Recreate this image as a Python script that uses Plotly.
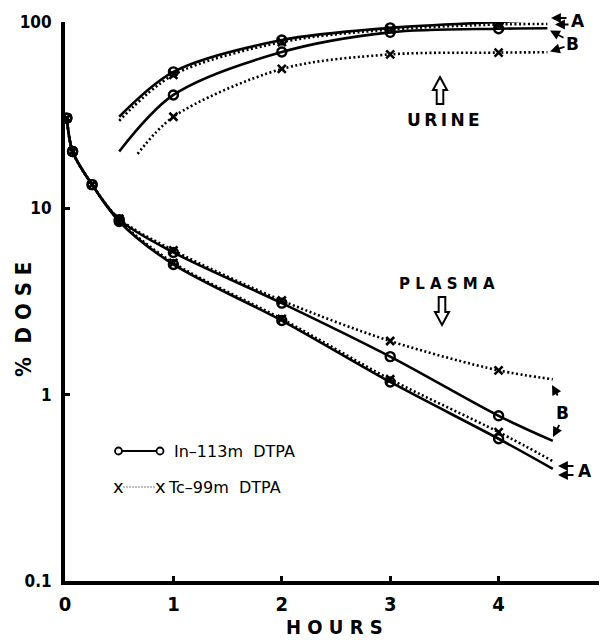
import plotly.graph_objects as go

# ---------------- data ----------------
plasma_hours = [0.017, 0.07, 0.25, 0.5, 1, 2, 3, 4]
plasma_end_hour = 4.5
plasma_in_A = [30.5, 20.2, 13.4, 8.5, 5.0, 2.5, 1.17, 0.58]
plasma_in_A_end = 0.40
plasma_tc_A = [30.5, 20.2, 13.4, 8.6, 5.1, 2.55, 1.21, 0.63]
plasma_tc_A_end = 0.44
plasma_in_B = [30.5, 20.2, 13.4, 8.7, 5.8, 3.1, 1.6, 0.77]
plasma_in_B_end = 0.565
plasma_tc_B = [30.5, 20.2, 13.4, 8.8, 5.95, 3.2, 1.94, 1.35]
plasma_tc_B_end = 1.21

urine_hours = [1, 2, 3, 4]
urine_end_hour = 4.45
urine_in_A_start = (0.5, 31)
urine_in_A = [54, 80, 93, 100]
urine_in_A_end = 103
urine_tc_A_start = (0.5, 29.5)
urine_tc_A = [52, 78, 91, 97]
urine_tc_A_end = 97.5
urine_in_B_start = (0.5, 20.2)
urine_in_B = [40.6, 69, 88, 92]
urine_in_B_end = 92.5
urine_tc_B_start = (0.67, 19.6)
urine_tc_B = [31, 56, 67, 68.5]
urine_tc_B_end = 68.8

x_ticks = [0, 1, 2, 3, 4, 5]
y_ticks = [0.1, 1, 10, 100]
y_tick_labels = ["0.1", "1", "10", "100"]

legend_labels = ["In\u2013113m  DTPA", "Tc\u201399m  DTPA"]

# ---------------- layout geometry ----------------
# the page body has the browser's default 8px margin, so the figure is
# made 8px smaller and all screen positions are shifted accordingly
SCREEN_W, SCREEN_H, OFF = 607, 640, 8
W, H = SCREEN_W - OFF, SCREEN_H - OFF
PLOT_L, PLOT_T, PLOT_R, PLOT_B = 65, 22, 607, 581      # screen pixels
ML, MT = PLOT_L - OFF, PLOT_T - OFF
MR, MB = SCREEN_W - PLOT_R, SCREEN_H - PLOT_B
PW, PH = PLOT_R - PLOT_L, PLOT_B - PLOT_T

def px(x, y):
    return (x - PLOT_L) / PW, (PLOT_B - y) / PH

NARROW = "DejaVu Sans Condensed, Liberation Sans Narrow, sans-serif"
SANS = "DejaVu Sans, Noto Sans, sans-serif"
DOT = "2px,2.5px"

fig = go.Figure()

def add_curve(xs, ys, dotted, width=2.6):
    fig.add_trace(go.Scatter(
        x=xs, y=ys, mode="lines", hoverinfo="skip", showlegend=False,
        line=dict(color="black", width=width, shape="spline", smoothing=0.9,
                  dash=DOT if dotted else "solid")))

def add_marks(xs, ys, tc):
    if tc:
        m = dict(symbol="x-thin", size=8, color="black",
                 line=dict(color="black", width=2.6))
    else:
        m = dict(symbol="circle-open", size=9, color="black",
                 line=dict(color="black", width=2.4))
    fig.add_trace(go.Scatter(x=xs, y=ys, mode="markers", marker=m,
                             hoverinfo="skip", showlegend=False))

# plasma
for ys, end, dotted in [(plasma_tc_B, plasma_tc_B_end, True),
                        (plasma_in_B, plasma_in_B_end, False),
                        (plasma_tc_A, plasma_tc_A_end, True),
                        (plasma_in_A, plasma_in_A_end, False)]:
    add_curve(plasma_hours + [plasma_end_hour], ys + [end], dotted)
    add_marks(plasma_hours, ys, dotted)

# urine
for start, ys, end, dotted in [(urine_tc_B_start, urine_tc_B, urine_tc_B_end, True),
                               (urine_in_B_start, urine_in_B, urine_in_B_end, False),
                               (urine_tc_A_start, urine_tc_A, urine_tc_A_end, True),
                               (urine_in_A_start, urine_in_A, urine_in_A_end, False)]:
    add_curve([start[0]] + urine_hours + [urine_end_hour], [start[1]] + ys + [end], dotted)
    add_marks(urine_hours, ys, dotted)

shapes = []
annotations = []

def text(x, y, s, size, family=SANS, weight="normal", xanchor="center", angle=0):
    px_, py_ = px(x, y)
    annotations.append(dict(x=px_, y=py_, xref="paper", yref="paper", text=s,
                            showarrow=False, xanchor=xanchor, yanchor="middle",
                            textangle=angle,
                            font=dict(family=family, size=size, color="black", weight=weight)))

def arrow(tip, tail):
    tx, ty = px(*tip)
    annotations.append(dict(x=tx, y=ty, xref="paper", yref="paper", text="",
                            showarrow=True, ax=tail[0] - tip[0], ay=tail[1] - tip[1],
                            arrowhead=2, arrowsize=1.1, arrowwidth=1.8,
                            arrowcolor="black", standoff=0, startstandoff=0))

def hollow_arrow(cx, y_tip, y_base, up=True):
    hw, sw = 7, 3.3
    d = 1 if up else -1
    y_neck = y_tip + d * 13
    pts = [(cx, y_tip), (cx + hw, y_neck), (cx + sw, y_neck), (cx + sw, y_base),
           (cx - sw, y_base), (cx - sw, y_neck), (cx - hw, y_neck)]
    path = "M " + " L ".join(f"{px(a, b)[0]:.5f},{px(a, b)[1]:.5f}" for a, b in pts) + " Z"
    shapes.append(dict(type="path", path=path, xref="paper", yref="paper",
                       line=dict(color="black", width=2), fillcolor="white"))

# region labels
hollow_arrow(440, 77, 104, up=True)
text(443, 120, "U\u2009R\u2009I\u2009N\u2009E", 17, weight="bold")
text(447, 284, "P L A S M A", 15, weight="bold")
hollow_arrow(442, 325, 297, up=False)

# A / B labels (urine)
arrow((551, 18), (568, 18))
arrow((555, 24.5), (570, 24.5))
text(578, 21, "A", 17, weight="bold")
arrow((550, 30.5), (565, 38.5))
arrow((550, 51.5), (566, 46.5))
text(572, 44, "B", 17, weight="bold")

# A / B labels (plasma)
arrow((552, 385), (558.5, 397))
text(562, 413, "B", 17, weight="bold")
arrow((553, 437), (560, 423.5))
arrow((558, 466), (575, 466))
arrow((558, 475), (575, 475))
text(585, 471, "A", 17, weight="bold")

# legend
x0, x1 = 118.5, 160
ly1, ly2 = 451, 487
shapes.append(dict(type="line", xref="paper", yref="paper",
                   x0=px(x0, ly1)[0], y0=px(x0, ly1)[1], x1=px(x1, ly1)[0], y1=px(x1, ly1)[1],
                   line=dict(color="black", width=2)))
for cx in (x0, x1):
    a = px(cx - 3.5, ly1 - 3.5)
    b = px(cx + 3.5, ly1 + 3.5)
    shapes.append(dict(type="circle", xref="paper", yref="paper",
                       x0=a[0], y0=a[1], x1=b[0], y1=b[1],
                       line=dict(color="black", width=1.8), fillcolor="white"))
text(172, ly1, legend_labels[0], 16, xanchor="left")
shapes.append(dict(type="line", xref="paper", yref="paper",
                   x0=px(x0 + 5, ly2)[0], y0=px(x0 + 5, ly2)[1],
                   x1=px(x1 - 4, ly2)[0], y1=px(x1 - 4, ly2)[1],
                   line=dict(color="black", width=1.2, dash="1px,2px")))
text(x0, ly2 - 1, "x", 18)
text(x1, ly2 - 1, "x", 18)
text(166, ly2, legend_labels[1], 16, xanchor="left")

# axis titles
text(24, 320, "%  D O S E", 22, family=NARROW, weight="bold", angle=-90)
text(334, 627, "H O U R S", 20, family=NARROW, weight="bold")

fig.update_layout(
    width=W, height=H,
    margin=dict(l=ML, r=MR, t=MT, b=MB, pad=0, autoexpand=False),
    paper_bgcolor="white", plot_bgcolor="white",
    showlegend=False,
    shapes=shapes, annotations=annotations,
    xaxis=dict(range=[0, 5], tickvals=x_ticks, ticks="inside", ticklen=5, tickwidth=3,
               tickcolor="black", showline=True, linewidth=4, linecolor="black",
               showgrid=False, zeroline=False, ticklabelstandoff=2, automargin=False,
               ticklabeloverflow="allow",
               tickfont=dict(family=NARROW, size=20, color="black", weight="bold")),
    yaxis=dict(type="log", range=[-1, 2], tickvals=y_ticks, ticktext=y_tick_labels,
               ticks="inside", ticklen=5, tickwidth=3, tickcolor="black",
               showline=True, linewidth=4, linecolor="black", automargin=False,
               showgrid=False, zeroline=False, ticklabelstandoff=6,
               tickfont=dict(family=NARROW, size=17, color="black", weight="bold")),
)

fig.write_html("out.html")
